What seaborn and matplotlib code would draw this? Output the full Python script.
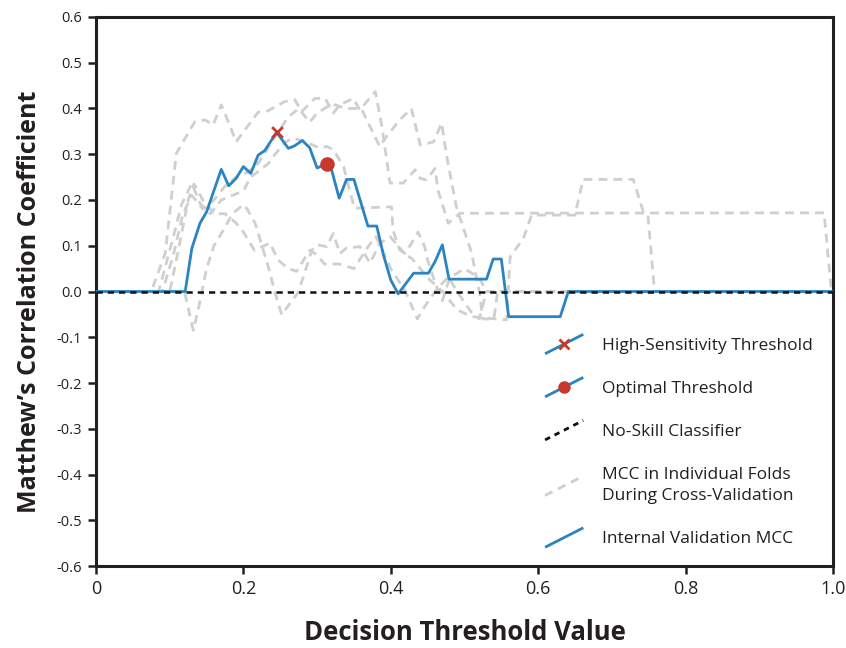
import matplotlib
matplotlib.use("Agg")
import matplotlib.pyplot as plt
import seaborn as sns
import numpy as np
import pandas as pd
from matplotlib.lines import Line2D
from matplotlib.legend_handler import HandlerBase

sns.set_theme(style="white")
plt.rcParams['font.family'] = ['Open Sans', 'DejaVu Sans']

# ---------------- data ----------------
internal_x = [0.0, 0.121, 0.130, 0.141, 0.150, 0.170, 0.180, 0.190, 0.200, 0.210, 0.220,
              0.229, 0.245, 0.261, 0.269, 0.280, 0.290, 0.300, 0.313, 0.320, 0.330,
              0.340, 0.350, 0.369, 0.381, 0.390, 0.400, 0.410, 0.431, 0.451, 0.460,
              0.470, 0.479, 0.530, 0.539, 0.550, 0.560, 0.630, 0.641, 1.0]
internal_y = [0.0, 0.0, 0.094, 0.149, 0.174, 0.267, 0.231, 0.247, 0.273, 0.258, 0.298,
              0.308, 0.348, 0.313, 0.318, 0.330, 0.314, 0.270, 0.279, 0.264, 0.204,
              0.245, 0.245, 0.143, 0.143, 0.080, 0.025, -0.005, 0.040, 0.040, 0.065,
              0.102, 0.027, 0.027, 0.071, 0.071, -0.055, -0.055, 0.0, 0.0]

foldA_x = [0.0, 0.075, 0.094, 0.109, 0.134, 0.148, 0.159, 0.170, 0.184, 0.190, 0.220,
           0.231, 0.256, 0.270, 0.279, 0.297, 0.311, 0.322, 0.331, 0.349, 0.358, 0.379,
           0.388, 0.399, 0.417, 0.433, 0.440, 0.449, 0.460, 0.464, 0.478, 0.494, 0.988,
           0.998, 1.0]
foldA_y = [0.0, 0.0, 0.084, 0.302, 0.371, 0.375, 0.364, 0.408, 0.353, 0.327, 0.392,
           0.393, 0.415, 0.419, 0.393, 0.422, 0.422, 0.390, 0.408, 0.422, 0.397, 0.437,
           0.360, 0.237, 0.237, 0.266, 0.247, 0.244, 0.269, 0.222, 0.149, 0.171, 0.172,
           0.0, 0.0]

foldB_x = [0.0, 0.085, 0.105, 0.116, 0.130, 0.141, 0.155, 0.170, 0.185, 0.200, 0.210,
           0.234, 0.243, 0.256, 0.266, 0.280, 0.304, 0.313, 0.322, 0.336, 0.345, 0.351,
           0.401, 0.403, 0.412, 0.430, 0.450, 0.470, 0.490, 0.510, 0.557, 0.562, 0.580,
           0.591, 0.650, 0.661, 0.729, 0.743, 0.749, 0.758, 1.0]
foldB_y = [0.0, 0.0, 0.120, 0.190, 0.236, 0.193, 0.170, 0.200, 0.210, 0.220, 0.250,
           0.280, 0.300, 0.325, 0.335, 0.330, 0.313, 0.317, 0.310, 0.273, 0.215, 0.182,
           0.185, 0.135, 0.091, 0.070, 0.030, 0.0, -0.040, -0.055, -0.062, 0.076, 0.116,
           0.167, 0.167, 0.245, 0.245, 0.173, 0.167, 0.0, 0.0]

foldC_x = [0.0, 0.120, 0.132, 0.140, 0.150, 0.160, 0.175, 0.185, 0.200, 0.206, 0.216,
           0.234, 0.243, 0.252, 0.260, 0.274, 0.283, 0.293, 0.301, 0.313, 0.322, 0.331,
           0.340, 0.358, 0.372, 0.385, 0.399, 0.419, 0.428, 0.437, 0.446, 0.450, 0.460,
           0.470, 0.480, 0.500, 0.520, 0.530, 1.0]
foldC_y = [0.0, 0.0, -0.085, -0.030, 0.050, 0.100, 0.140, 0.170, 0.190, 0.178, 0.149,
           0.053, -0.003, -0.051, -0.033, -0.003, 0.040, 0.091, 0.102, 0.098, 0.127, 0.083,
           0.095, 0.098, 0.062, 0.105, 0.120, 0.083, 0.105, 0.130, 0.098, 0.069, 0.020,
           -0.020, 0.030, 0.050, 0.030, 0.0, 0.0]

foldD_x = [0.0, 0.100, 0.113, 0.125, 0.133, 0.145, 0.160, 0.175, 0.190, 0.200, 0.215,
           0.236, 0.247, 0.260, 0.272, 0.290, 0.300, 0.310, 0.330, 0.350, 0.370, 0.380,
           0.400, 0.420, 0.436, 0.446, 0.460, 0.478, 0.490, 0.510, 0.520, 0.530, 1.0]
foldD_y = [0.0, 0.0, 0.100, 0.200, 0.235, 0.200, 0.170, 0.170, 0.150, 0.130, 0.090,
           0.106, 0.069, 0.051, 0.044, 0.090, 0.080, 0.060, 0.060, 0.050, 0.100, 0.120,
           0.050, 0.0, -0.060, -0.033, 0.0, 0.032, 0.0, -0.047, -0.060, 0.0, 0.0]

foldE_x = [0.0, 0.090, 0.105, 0.118, 0.130, 0.145, 0.160, 0.175, 0.190, 0.205, 0.220,
           0.240, 0.260, 0.275, 0.290, 0.300, 0.320, 0.340, 0.360, 0.372, 0.385, 0.394,
           0.412, 0.428, 0.440, 0.458, 0.469, 0.476, 0.489, 0.510, 0.520, 0.525, 0.540,
           0.545, 1.0]
foldE_y = [0.0, 0.0, 0.080, 0.170, 0.210, 0.180, 0.200, 0.230, 0.250, 0.260, 0.280,
           0.330, 0.380, 0.400, 0.370, 0.390, 0.410, 0.400, 0.400, 0.360, 0.317, 0.338,
           0.375, 0.400, 0.320, 0.327, 0.368, 0.295, 0.185, 0.083, 0.0, -0.060, -0.060,
           0.0, 0.0]

folds_x = [foldA_x, foldB_x, foldC_x, foldD_x, foldE_x]
folds_y = [foldA_y, foldB_y, foldC_y, foldD_y, foldE_y]

noskill_x = [0.0, 1.0]
noskill_y = [0.0, 0.0]

high_sens_x = [0.245]
high_sens_y = [0.348]
optimal_x = [0.313]
optimal_y = [0.279]

x_ticks = [0, 0.2, 0.4, 0.6, 0.8, 1.0]
x_tick_labels = ["0", "0.2", "0.4", "0.6", "0.8", "1.0"]
y_ticks = [-0.6, -0.5, -0.4, -0.3, -0.2, -0.1, 0.0, 0.1, 0.2, 0.3, 0.4, 0.5, 0.6]
y_tick_labels = ["-0.6", "-0.5", "-0.4", "-0.3", "-0.2", "-0.1", "0.0", "0.1", "0.2",
                 "0.3", "0.4", "0.5", "0.6"]

legend_labels = ["High-Sensitivity Threshold", "Optimal Threshold", "No-Skill Classifier",
                 "MCC in Individual Folds\nDuring Cross-Validation", "Internal Validation MCC"]

# ---------------- style ----------------
BLUE = "#2b84c1"
RED = "#c6392c"
GRAY = "#cfcfcf"
INK = "#231f20"

fig = plt.figure(figsize=(8.46, 6.48), dpi=100)
ax = fig.add_axes([0.1135, 0.1265, 0.871, 0.8473])
ax.set_facecolor("white")

for fx, fy in zip(folds_x, folds_y):
    df = pd.DataFrame({"x": fx, "y": fy})
    sns.lineplot(data=df, x="x", y="y", ax=ax, color=GRAY, lw=2.0,
                 linestyle=(0, (3.2, 2.2)), estimator=None, sort=False, zorder=2)

df_int = pd.DataFrame({"x": internal_x, "y": internal_y})
sns.lineplot(data=df_int, x="x", y="y", ax=ax, color=BLUE, lw=2.0,
             estimator=None, sort=False, zorder=3)

df_ns = pd.DataFrame({"x": noskill_x, "y": noskill_y})
sns.lineplot(data=df_ns, x="x", y="y", ax=ax, color="#111111", lw=1.8,
             linestyle=(0, (2.5, 2.0)), estimator=None, sort=False, zorder=4)

sns.scatterplot(x=high_sens_x, y=high_sens_y, ax=ax, marker="x", color=RED, s=60,
                linewidth=2.0, zorder=5)
sns.scatterplot(x=optimal_x, y=optimal_y, ax=ax, marker="o", color=RED, s=110,
                edgecolor=RED, linewidth=0, zorder=5)

ax.set_xlim(0, 1.0)
ax.set_ylim(-0.6, 0.6)
ax.set_xticks(x_ticks)
ax.set_xticklabels(x_tick_labels)
ax.set_yticks(y_ticks)
ax.set_yticklabels(y_tick_labels)

tick_font = ['Liberation Sans Narrow', 'Open Sans', 'DejaVu Sans']
for lab in ax.get_xticklabels():
    lab.set_family(tick_font)
    lab.set_fontsize(13)
for lab in ax.get_yticklabels():
    lab.set_family(tick_font)
    lab.set_fontsize(10.5)

ax.tick_params(axis="both", which="major", direction="out", length=6, width=1.8,
               color=INK, left=True, bottom=True, top=False, right=False, pad=4,
               labelcolor=INK)
for sp in ax.spines.values():
    sp.set_visible(True)
    sp.set_color(INK)
    sp.set_linewidth(2.2)

ax.set_xlabel("Decision Threshold Value", fontsize=18.5, fontweight="bold",
              color=INK, labelpad=15)
ax.set_ylabel("Matthew\u2019s Correlation Coefficient", fontsize=18, fontweight="bold",
              color=INK)
ax.yaxis.set_label_coords(-0.073, 0.481)


# ---------------- legend with diagonal handles ----------------
class DiagHandler(HandlerBase):
    def __init__(self, color, ls="-", lw=2.0, marker=None, mcolor=None, ms=8, mew=2.0):
        super().__init__()
        self.color = color
        self.ls = ls
        self.lw = lw
        self.marker = marker
        self.mcolor = mcolor
        self.ms = ms
        self.mew = mew

    def create_artists(self, legend, orig_handle, xdescent, ydescent, width, height,
                       fontsize, trans):
        x0 = -xdescent
        x1 = -xdescent + width
        y0 = -ydescent - 0.35 * height
        y1 = -ydescent + 1.25 * height
        artists = [Line2D([x0, x1], [y0, y1], color=self.color, linestyle=self.ls,
                          lw=self.lw, transform=trans, solid_capstyle="butt")]
        if self.marker is not None:
            artists.append(Line2D([(x0 + x1) / 2], [(y0 + y1) / 2], marker=self.marker,
                                  color=self.mcolor, markersize=self.ms,
                                  markeredgewidth=self.mew, linestyle="none",
                                  transform=trans))
        return artists


handles = [Line2D([], []) for _ in range(5)]
hmap = {
    handles[0]: DiagHandler(BLUE, marker="x", mcolor=RED, ms=7, mew=2.0),
    handles[1]: DiagHandler(BLUE, marker="o", mcolor=RED, ms=9, mew=0),
    handles[2]: DiagHandler("#111111", ls=(0, (2.0, 1.8)), lw=2.0),
    handles[3]: DiagHandler(GRAY, ls=(0, (3.0, 2.2)), lw=2.0),
    handles[4]: DiagHandler(BLUE),
}
leg = ax.legend(handles, legend_labels, handler_map=hmap, loc="lower left",
                bbox_to_anchor=(0.6, 0.022), frameon=False, fontsize=12.5,
                handlelength=2.2, handletextpad=1.1, labelspacing=1.55,
                borderaxespad=0.0)
for t in leg.get_texts():
    t.set_color(INK)
    t.set_linespacing(1.45)

fig.savefig("out.png", dpi=100)
